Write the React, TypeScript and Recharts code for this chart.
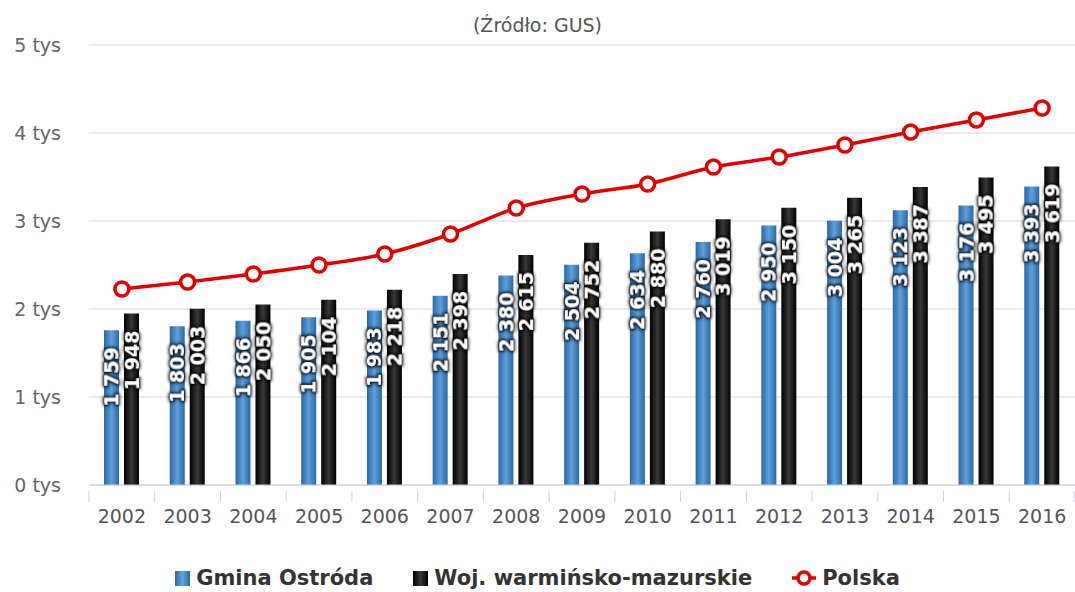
import React from 'react'
import {
  ComposedChart,
  Bar,
  Line,
  XAxis,
  YAxis,
  CartesianGrid,
  Legend,
  LabelList
} from 'recharts'

const years = ['2002', '2003', '2004', '2005', '2006', '2007', '2008', '2009', '2010', '2011', '2012', '2013', '2014', '2015', '2016']
const gminaOstroda = [1759, 1803, 1866, 1905, 1983, 2151, 2380, 2504, 2634, 2760, 2950, 3004, 3123, 3176, 3393]
const wojWarminsko = [1948, 2003, 2050, 2104, 2218, 2398, 2615, 2752, 2880, 3019, 3150, 3265, 3387, 3495, 3619]
const polska = [2227, 2307, 2398, 2500, 2625, 2852, 3148, 3307, 3420, 3614, 3727, 3864, 4011, 4148, 4284]
const yTicks = [0, 1000, 2000, 3000, 4000, 5000]

const data = years.map((year, i) => ({
  year,
  gmina: gminaOstroda[i],
  woj: wojWarminsko[i],
  polska: polska[i]
}))

const FONT = '"DejaVu Sans", Verdana, sans-serif'
const RED = '#e00000'
const PLOT_LEFT = 89
const PLOT_RIGHT = 1075
const BAND = (PLOT_RIGHT - PLOT_LEFT) / years.length

function fmt(v: number): string {
  const th = Math.floor(v / 1000)
  const rest = String(v % 1000).padStart(3, '0')
  return th > 0 ? `${th} ${rest}` : String(v)
}

function BarLabel(props: any): React.JSX.Element | null {
  const { x, y, width, value } = props
  if (value == null) return null
  const cx = Number(x) + Number(width) / 2
  const ty = Number(y) + 17
  return (
    <text
      x={cx}
      y={ty}
      transform={`rotate(-90 ${cx} ${ty})`}
      textAnchor="end"
      dominantBaseline="central"
      fill="#fff"
      stroke="rgba(0,0,0,0.35)"
      strokeWidth={3}
      strokeLinejoin="round"
      paintOrder="stroke"
      filter="url(#labelGlow)"
      fontFamily={FONT}
      fontWeight="bold"
      fontSize={19}
    >
      {fmt(Number(value))}
    </text>
  )
}

function XTick(props: any): React.JSX.Element {
  const { x, y, payload, index } = props
  const last = index === years.length - 1
  const top = y - 2
  return (
    <g>
      <line x1={x - BAND / 2} x2={x - BAND / 2} y1={top} y2={top + 11} stroke="#c8d0dc" />
      {last && <line x1={x + BAND / 2 - 1} x2={x + BAND / 2 - 1} y1={top} y2={top + 11} stroke="#c8d0dc" />}
      <text x={x} y={top + 32} textAnchor="middle" fill="#555" fontFamily={FONT} fontSize={19}>
        {payload.value}
      </text>
    </g>
  )
}

function LegendBox(): React.JSX.Element {
  const item: React.CSSProperties = { display: 'flex', alignItems: 'center', gap: 6 }
  const label: React.CSSProperties = { fontFamily: FONT, fontWeight: 'bold', fontSize: 21, color: '#333' }
  return (
    <div style={{ height: 57, display: 'flex', justifyContent: 'center', alignItems: 'flex-end', gap: 40, paddingBottom: 2, boxSizing: 'border-box' }}>
      <div style={item}>
        <span style={{ width: 15, height: 15, background: 'linear-gradient(90deg, #2e6aa6, #64a3dc, #2e6aa6)' }} />
        <span style={label}>Gmina Ostróda</span>
      </div>
      <div style={item}>
        <span style={{ width: 15, height: 15, background: 'linear-gradient(90deg, #000, #3a3a3a, #000)' }} />
        <span style={label}>Woj. warmińsko-mazurskie</span>
      </div>
      <div style={item}>
        <svg width={24} height={18}>
          <line x1={0} x2={24} y1={9} y2={9} stroke={RED} strokeWidth={3.5} />
          <circle cx={12} cy={9} r={6} fill="#fff" stroke={RED} strokeWidth={3.5} />
        </svg>
        <span style={label}>Polska</span>
      </div>
    </div>
  )
}

export default function App(): React.JSX.Element {
  return (
    <div style={{ position: 'absolute', left: 0, top: 0, width: 1075, height: 592, background: '#fff' }}>
      <div
        style={{
          position: 'absolute',
          top: 14,
          left: 0,
          width: 1075,
          textAlign: 'center',
          fontFamily: FONT,
          fontSize: 19,
          color: '#555'
        }}
      >
        (Źródło: GUS)
      </div>
      <ComposedChart
        width={1075}
        height={592}
        data={data}
        margin={{ top: 45, right: 0, left: 0, bottom: 0 }}
        barSize={15}
        barGap={5}
      >
        <defs>
          <linearGradient id="blueGrad" x1="0" y1="0" x2="1" y2="0">
            <stop offset="0%" stopColor="#2c67a3" />
            <stop offset="50%" stopColor="#5f9fda" />
            <stop offset="100%" stopColor="#2c67a3" />
          </linearGradient>
          <linearGradient id="blackGrad" x1="0" y1="0" x2="1" y2="0">
            <stop offset="0%" stopColor="#000" />
            <stop offset="50%" stopColor="#383838" />
            <stop offset="100%" stopColor="#000" />
          </linearGradient>
          <filter id="labelGlow" x="-20%" y="-50%" width="140%" height="200%">
            <feMorphology in="SourceAlpha" operator="dilate" radius="1" result="d" />
            <feGaussianBlur in="d" stdDeviation="1.5" result="b" />
            <feFlood floodColor="#000" floodOpacity="0.75" />
            <feComposite in2="b" operator="in" result="s" />
            <feMerge>
              <feMergeNode in="s" />
              <feMergeNode in="SourceGraphic" />
            </feMerge>
          </filter>
        </defs>
        <CartesianGrid vertical={false} stroke="#d8d8d8" />
        <XAxis
          dataKey="year"
          height={50}
          axisLine={{ stroke: '#c8d0dc' }}
          tickLine={false}
          tick={<XTick />}
          interval={0}
        />
        <YAxis
          width={PLOT_LEFT}
          domain={[0, 5000]}
          ticks={yTicks}
          axisLine={false}
          tickLine={false}
          tickSize={0}
          tickMargin={28}
          tickFormatter={(v: number) => `${v / 1000} tys`}
          tick={{ fill: '#666', fontFamily: FONT, fontSize: 19 }}
        />
        <Legend verticalAlign="bottom" content={<LegendBox />} />
        <Bar dataKey="gmina" name="Gmina Ostróda" fill="url(#blueGrad)" isAnimationActive={false}>
          <LabelList dataKey="gmina" content={<BarLabel />} />
        </Bar>
        <Bar dataKey="woj" name="Woj. warmińsko-mazurskie" fill="url(#blackGrad)" isAnimationActive={false}>
          <LabelList dataKey="woj" content={<BarLabel />} />
        </Bar>
        <Line
          type="monotone"
          dataKey="polska"
          name="Polska"
          stroke={RED}
          strokeWidth={3.5}
          dot={{ r: 7, fill: '#fff', stroke: RED, strokeWidth: 3.5 }}
          isAnimationActive={false}
        />
      </ComposedChart>
    </div>
  )
}
